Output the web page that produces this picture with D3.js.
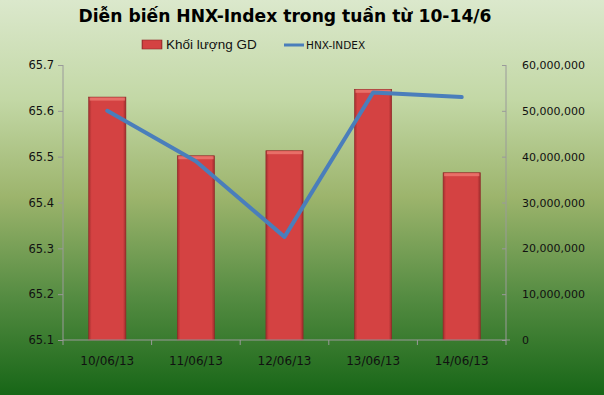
<!DOCTYPE html>
<html lang="vi">
<head>
<meta charset="UTF-8">
<title>HNX-Index</title>
<script src="https://d3js.org/d3.v7.min.js"></script>
<style>
  body { margin: 0; }
  svg { display: block; }
</style>
</head>
<body>
<svg width="604" height="395"></svg>
<script>
    // data
    const days = ["10/06/13", "11/06/13", "12/06/13", "13/06/13", "14/06/13"];
    const volume = [53000000, 40200000, 41300000, 54700000, 36500000];
    const hnxIndex = [65.60, 65.49, 65.325, 65.64, 65.63];
    const leftTicks = [65.1, 65.2, 65.3, 65.4, 65.5, 65.6, 65.7];
    const rightTicks = [0, 10000000, 20000000, 30000000, 40000000, 50000000, 60000000];

    const svg = d3.select("svg");
    const defs = svg.append("defs");

    // background gradient
    const bg = defs.append("linearGradient").attr("id", "bg")
        .attr("x1", 0).attr("y1", 0).attr("x2", 0).attr("y2", 1);
    bg.append("stop").attr("offset", "0%").attr("stop-color", "#dbe8cc");
    bg.append("stop").attr("offset", "25%").attr("stop-color", "#c3d8a6");
    bg.append("stop").attr("offset", "50%").attr("stop-color", "#9cb46c");
    bg.append("stop").attr("offset", "75%").attr("stop-color", "#558c42");
    bg.append("stop").attr("offset", "100%").attr("stop-color", "#176617");

    // bar gradient (bevel look)
    const bar = defs.append("linearGradient").attr("id", "bar")
        .attr("x1", 0).attr("y1", 0).attr("x2", 1).attr("y2", 0);
    bar.append("stop").attr("offset", "0%").attr("stop-color", "#a42f2f");
    bar.append("stop").attr("offset", "8%").attr("stop-color", "#d44242");
    bar.append("stop").attr("offset", "92%").attr("stop-color", "#d44242");
    bar.append("stop").attr("offset", "100%").attr("stop-color", "#9e2c2c");

    svg.append("rect").attr("width", 604).attr("height", 395).attr("fill", "url(#bg)");

    const pLeft = 63, pRight = 506, pTop = 65, pBottom = 340;

    const x = d3.scaleBand().domain(days).range([pLeft, pRight]).paddingInner(0.58).paddingOuter(0.29);
    const xc = d3.scalePoint().domain(days).range([pLeft, pRight]).padding(0.5);
    const yL = d3.scaleLinear().domain([65.1, 65.7]).range([pBottom, pTop]);
    const yR = d3.scaleLinear().domain([0, 60000000]).range([pBottom, pTop]);

    // bars
    const g = svg.append("g");
    g.selectAll("rect.bar").data(volume).enter().append("rect")
        .attr("class", "bar")
        .attr("x", (d, i) => x(days[i]))
        .attr("y", d => yR(d))
        .attr("width", x.bandwidth())
        .attr("height", d => pBottom - yR(d))
        .attr("fill", "url(#bar)")
        .attr("stroke", "#8e2828")
        .attr("stroke-width", 0.6);
    // light top edge
    g.selectAll("rect.topEdge").data(volume).enter().append("rect")
        .attr("class", "topEdge")
        .attr("x", (d, i) => x(days[i]) + 1)
        .attr("y", d => yR(d) + 0.5)
        .attr("width", x.bandwidth() - 2)
        .attr("height", 3)
        .attr("fill", "#ec7a72")
        .attr("opacity", 0.8);

    // axes
    const axisColor = "#9a9a9a";
    const yAxisL = svg.append("g").attr("transform", `translate(${pLeft},0)`)
        .call(d3.axisLeft(yL).tickValues(leftTicks).tickSize(5).tickFormat(d3.format(".1f")));
    const yAxisR = svg.append("g").attr("transform", `translate(${pRight},0)`)
        .call(d3.axisLeft(yR).tickValues(rightTicks).tickSize(4).tickFormat(d => d3.format(",")(d)));
    yAxisR.selectAll("text").attr("x", 16).attr("text-anchor", "start");

    const xAxis = svg.append("g").attr("transform", `translate(0,${pBottom})`)
        .call(d3.axisBottom(x).tickSize(0).tickFormat(d => d));
    xAxis.selectAll("text").attr("dy", "1.85em").style("font-size", "12px");
    // category separator ticks
    const sep = d3.range(days.length + 1).map(i => pLeft + i * (pRight - pLeft) / days.length);
    svg.append("g").selectAll("line").data(sep).enter().append("line")
        .attr("x1", d => d).attr("x2", d => d)
        .attr("y1", pBottom).attr("y2", pBottom + 5)
        .attr("stroke", axisColor);

    [yAxisL, yAxisR, xAxis].forEach(a => {
        a.selectAll("path.domain").attr("stroke", axisColor);
        a.selectAll(".tick line").attr("stroke", axisColor);
        a.selectAll("text").attr("fill", "#111").style("font-family", "DejaVu Sans, sans-serif");
    });
    yAxisL.selectAll("text").style("font-size", "11.5px").attr("x", -9);
    yAxisR.selectAll("text").style("font-size", "11px");
    yAxisL.select("path.domain").attr("d", `M0,${pTop}V${pBottom}`);
    yAxisR.select("path.domain").attr("d", `M0,${pTop}V${pBottom}`);
    xAxis.select("path.domain").attr("d", `M${pLeft},0H${pRight + 4}`);

    // index line
    svg.append("path")
        .datum(hnxIndex)
        .attr("fill", "none")
        .attr("stroke", "#4a7ebb")
        .attr("stroke-width", 4)
        .attr("stroke-linejoin", "round")
        .attr("stroke-linecap", "round")
        .attr("d", d3.line()
            .x((d, i) => xc(days[i]))
            .y(d => yL(d)));

    // title
    svg.append("text")
        .attr("x", 285).attr("y", 22)
        .attr("text-anchor", "middle")
        .attr("textLength", 413)
        .attr("lengthAdjust", "spacingAndGlyphs")
        .style("font-family", "DejaVu Sans Condensed, DejaVu Sans, sans-serif")
        .style("font-stretch", "condensed")
        .style("font-weight", "bold")
        .style("font-size", "18px")
        .attr("fill", "#000")
        .text("Diễn biến HNX-Index trong tuần từ 10-14/6");

    // legend
    svg.append("rect").attr("x", 142).attr("y", 40).attr("width", 20).attr("height", 9)
        .attr("fill", "url(#bar)").attr("stroke", "#8e2828").attr("stroke-width", 0.6);
    svg.append("text").attr("x", 166).attr("y", 49)
        .style("font-family", "Liberation Sans, Arial, sans-serif")
        .style("font-size", "13.5px").attr("fill", "#111")
        .text("Khối lượng GD");
    svg.append("line").attr("x1", 284).attr("x2", 304).attr("y1", 45).attr("y2", 45)
        .attr("stroke", "#4a7ebb").attr("stroke-width", 3);
    svg.append("text").attr("x", 306).attr("y", 49)
        .style("font-family", "DejaVu Sans, sans-serif")
        .style("font-size", "10.5px").attr("fill", "#111")
        .text("HNX-INDEX");
</script>
</body>
</html>
